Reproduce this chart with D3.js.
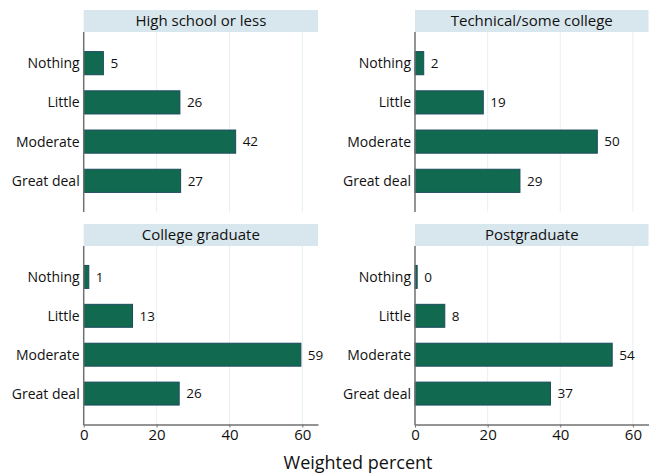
<!DOCTYPE html>
<html><head><meta charset="utf-8">
<script src="https://cdn.jsdelivr.net/npm/d3@7"></script>
<style>body{margin:0;background:#fff}svg{display:block}text{font-family:"Open Sans",sans-serif;fill:#111}</style>
</head><body><svg id="c" width="652" height="475"></svg>
<script>
const categories = ["Nothing","Little","Moderate","Great deal"];
const panels = ["High school or less","Technical/some college","College graduate","Postgraduate"];
const valHighSchool = [5.4,26.4,41.7,26.6];
const valTechnical = [2.4,18.8,50.2,28.9];
const valCollege = [1.4,13.4,59.6,26.2];
const valPostgrad = [0.6,8.2,54.3,37.3];
const labelHighSchool = ["5","26","42","27"];
const labelTechnical = ["2","19","50","29"];
const labelCollege = ["1","13","59","26"];
const labelPostgrad = ["0","8","54","37"];
const xTicks = [0,20,40,60];
const xTitle = "Weighted percent";

const vals=[valHighSchool,valTechnical,valCollege,valPostgrad];
const labs=[labelHighSchool,labelTechnical,labelCollege,labelPostgrad];
const svg=d3.select("#c");
const cols=[{x0:83.7,x1:318},{x0:415,x1:648.5}];
const rows=[{h0:10,h1:32,y1:212,axis:false},{h0:224,h1:246,y1:424.5,axis:true}];
panels.forEach((p,i)=>{
  const c=cols[i%2], r=rows[Math.floor(i/2)];
  const x=d3.scaleLinear().domain([0,64.3]).range([c.x0,c.x1]);
  const y=d3.scaleBand().domain(categories).range([r.h1,r.y1]).paddingInner(0.41).paddingOuter(0.5);
  const g=svg.append("g");
  g.append("rect").attr("x",c.x0).attr("y",r.h0).attr("width",c.x1-c.x0).attr("height",r.h1-r.h0).attr("fill","#d8e6ed");
  g.append("text").attr("x",(c.x0+c.x1)/2).attr("y",(r.h0+r.h1)/2).attr("dy","0.36em").attr("text-anchor","middle").attr("font-size",15).text(p);
  g.selectAll(".grid").data(xTicks.slice(1)).join("line").attr("x1",d=>x(d)).attr("x2",d=>x(d)).attr("y1",r.h1).attr("y2",r.y1).attr("stroke","#e7f0f3").attr("stroke-width",1);
  g.selectAll(".bar").data(categories).join("rect")
    .attr("x",x(0)).attr("y",d=>y(d)).attr("width",(d,j)=>x(vals[i][j])-x(0)).attr("height",y.bandwidth())
    .attr("fill","#116a50").attr("stroke","#1b4a5e").attr("stroke-width",1);
  g.selectAll(".vl").data(categories).join("text")
    .attr("x",(d,j)=>x(vals[i][j])+7).attr("y",d=>y(d)+y.bandwidth()/2).attr("dy","0.36em").attr("font-size",13.5).text((d,j)=>labs[i][j]);
  g.selectAll(".cl").data(categories).join("text")
    .attr("x",c.x0-4).attr("y",d=>y(d)+y.bandwidth()/2).attr("dy","0.36em").attr("text-anchor","end").attr("font-size",14).text(d=>d);
  g.append("line").attr("x1",c.x0).attr("x2",c.x0).attr("y1",r.h1).attr("y2",r.y1+(r.axis?0.75:0)).attr("stroke","#707070").attr("stroke-width",1.5);
  if(r.axis){
    const ax=g.append("g").attr("transform",`translate(0,${r.y1})`).call(d3.axisBottom(x).tickValues(xTicks).tickSize(3).tickPadding(2).tickSizeOuter(0));
    ax.select(".domain").attr("stroke","#707070").attr("stroke-width",1.5);
    ax.selectAll(".tick line").attr("stroke","#707070").attr("stroke-width",1);
    ax.selectAll(".tick text").attr("font-size",15).attr("fill","#111").style("font-family","'Open Sans',sans-serif");
  }
});
svg.append("text").attr("x",358).attr("y",463).attr("dy","0.36em").attr("text-anchor","middle").attr("font-size",18).text(xTitle);
</script></body></html>
